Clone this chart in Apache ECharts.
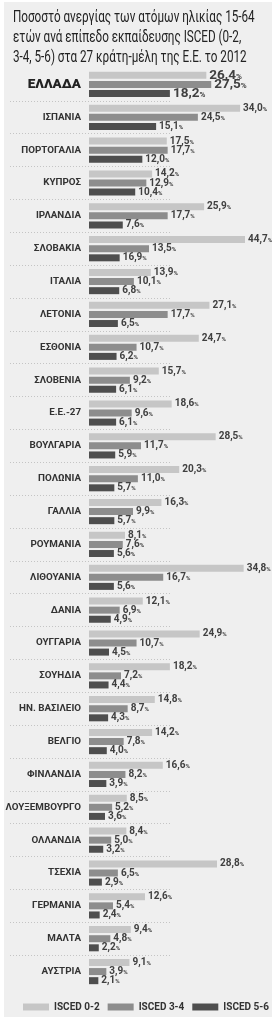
<!DOCTYPE html>
<html lang="el">
<head>
<meta charset="UTF-8">
<title>Ανεργία ανά επίπεδο εκπαίδευσης</title>
<style>
  html, body { margin: 0; padding: 0; background: #fff; }
  .panel { position: absolute; left: 4px; top: 2px; width: 268px; height: 1015px; background: #efefef; }
  #chart { position: absolute; left: 0; top: 0; width: 274px; height: 1024px; }
</style>
</head>
<body>
<div class="panel"></div>
<div id="chart"></div>
<script src="https://cdn.jsdelivr.net/npm/echarts@6/dist/echarts.min.js"></script>
<script>
var countries = ['ΕΛΛΑΔΑ', 'ΙΣΠΑΝΙΑ', 'ΠΟΡΤΟΓΑΛΙΑ', 'ΚΥΠΡΟΣ', 'ΙΡΛΑΝΔΙΑ', 'ΣΛΟΒΑΚΙΑ', 'ΙΤΑΛΙΑ', 'ΛΕΤΟΝΙΑ', 'ΕΣΘΟΝΙΑ', 'ΣΛΟΒΕΝΙΑ',
  'Ε.Ε.-27', 'ΒΟΥΛΓΑΡΙΑ', 'ΠΟΛΩΝΙΑ', 'ΓΑΛΛΙΑ', 'ΡΟΥΜΑΝΙΑ', 'ΛΙΘΟΥΑΝΙΑ', 'ΔΑΝΙΑ', 'ΟΥΓΓΑΡΙΑ', 'ΣΟΥΗΔΙΑ', 'ΗΝ. ΒΑΣΙΛΕΙΟ',
  'ΒΕΛΓΙΟ', 'ΦΙΝΛΑΝΔΙΑ', 'ΛΟΥΞΕΜΒΟΥΡΓΟ', 'ΟΛΛΑΝΔΙΑ', 'ΤΣΕΧΙΑ', 'ΓΕΡΜΑΝΙΑ', 'ΜΑΛΤΑ', 'ΑΥΣΤΡΙΑ']
var isced02 = [26.4, 34.0, 17.5, 14.2, 25.9, 44.7, 13.9, 27.1, 24.7, 15.7, 18.6, 28.5, 20.3, 16.3, 8.1, 34.8, 12.1, 24.9, 18.2, 14.8, 14.2, 16.6, 8.5, 8.4, 28.8, 12.6, 9.4, 9.1]
var isced34 = [27.5, 24.5, 17.7, 12.9, 17.7, 13.5, 10.1, 17.7, 10.7, 9.2, 9.6, 11.7, 11.0, 9.9, 7.6, 16.7, 6.9, 10.7, 7.2, 8.7, 7.8, 8.2, 5.2, 5.0, 6.5, 5.4, 4.8, 3.9]
var isced56 = [18.2, 15.1, 12.0, 10.4, 7.6, 6.9, 6.8, 6.5, 6.2, 6.1, 6.1, 5.9, 5.7, 5.7, 5.6, 5.6, 4.9, 4.5, 4.4, 4.3, 4.0, 3.9, 3.6, 3.2, 2.9, 2.4, 2.2, 2.1]
var seriesNames = ['ISCED 0-2', 'ISCED 3-4', 'ISCED 5-6']
var colors = ['#c6c6c6', '#8d8d8d', '#4e4e4e']
// the original prints 16,9 next to the Slovak 5-6 bar (bar itself is 6,9)
var printedLabels = { 'ΣΛΟΒΑΚΙΑ|2': '16,9' }

var titleText = 'Ποσοστό ανεργίας των ατόμων ηλικίας 15-64\nετών ανά επίπεδο εκπαίδευσης ISCED (0-2,\n3-4, 5-6) στα 27 κράτη-μέλη της Ε.Ε. το 2012'
var font = "Roboto, 'DejaVu Sans Condensed', sans-serif"

var chart = echarts.init(document.getElementById('chart'))

function valueLabel(p) {
  var txt = printedLabels[p.name + '|' + p.seriesIndex] || p.value.toFixed(1).replace('.', ',')
  if (p.dataIndex === 0) return '{N|' + txt + '}{P|%}'
  return '{n|' + txt + '}{p|%}'
}

function makeSeries(i, values) {
  return {
    name: seriesNames[i],
    type: 'bar',
    xAxisIndex: 0,
    yAxisIndex: 0,
    data: values,
    barWidth: 7,
    barGap: '30%',
    clip: true,
    itemStyle: { color: colors[i] },
    label: {
      show: true,
      position: 'right',
      distance: 3,
      formatter: valueLabel,
      rich: {
        n: { fontFamily: font, fontWeight: 'bold', fontSize: 10, lineHeight: 10, color: '#404040' },
        p: { fontFamily: font, fontWeight: 'bold', fontSize: 6, lineHeight: 10, color: '#404040', padding: [2, 0, 0, 0] },
        N: { fontFamily: font, fontWeight: 'bold', fontSize: 13.5, lineHeight: 11, color: '#404040' },
        P: { fontFamily: font, fontWeight: 'bold', fontSize: 8, lineHeight: 11, color: '#404040', padding: [3, 0, 0, 0] }
      }
    }
  }
}

var option = {
  animation: false,
  graphic: [{
    type: 'text',
    x: 13,
    y: 8,
    scaleX: 0.73,
    style: {
      text: titleText,
      fontFamily: font,
      fontSize: 16,
      lineHeight: 20,
      fill: '#222',
      verticalAlign: 'top'
    }
  }],
  legend: {
    data: seriesNames,
    left: 18,
    top: 997,
    itemWidth: 26,
    itemHeight: 7,
    itemGap: 8,
    icon: 'rect',
    textStyle: { fontFamily: font, fontWeight: 'bold', fontSize: 10, color: '#333' }
  },
  grid: [
    { left: 89, top: 68, width: 156, height: 920, outerBoundsMode: 'none' },
    { left: 10, top: 68, width: 160, height: 920, outerBoundsMode: 'none' }
  ],
  xAxis: [
    { type: 'value', gridIndex: 0, min: 0, max: 35.1, show: false },
    { type: 'value', gridIndex: 1, min: 0, max: 1, show: false }
  ],
  yAxis: [
    {
      type: 'category', gridIndex: 0, data: countries, inverse: true,
      axisLine: { show: false }, axisTick: { show: false }, splitLine: { show: false },
      axisLabel: {
        margin: 8,
        formatter: function (v) { return v === 'ΕΛΛΑΔΑ' ? '{big|' + v + '}' : '{c|' + v + '}' },
        rich: {
          c: { fontFamily: font, fontWeight: 'bold', fontSize: 9.8, color: '#333' },
          big: { fontFamily: font, fontWeight: 900, fontSize: 13.5, color: '#222' }
        }
      }
    },
    {
      type: 'category', gridIndex: 1, data: countries, inverse: true,
      axisLine: { show: false }, axisTick: { show: false }, axisLabel: { show: false },
      splitLine: { show: true, showMinLine: false, showMaxLine: false, lineStyle: { color: '#c4c4c4', type: [1, 2], width: 1 } }
    }
  ],
  series: [makeSeries(0, isced02), makeSeries(1, isced34), makeSeries(2, isced56)]
}
chart.setOption(option)
</script>
</body>
</html>
